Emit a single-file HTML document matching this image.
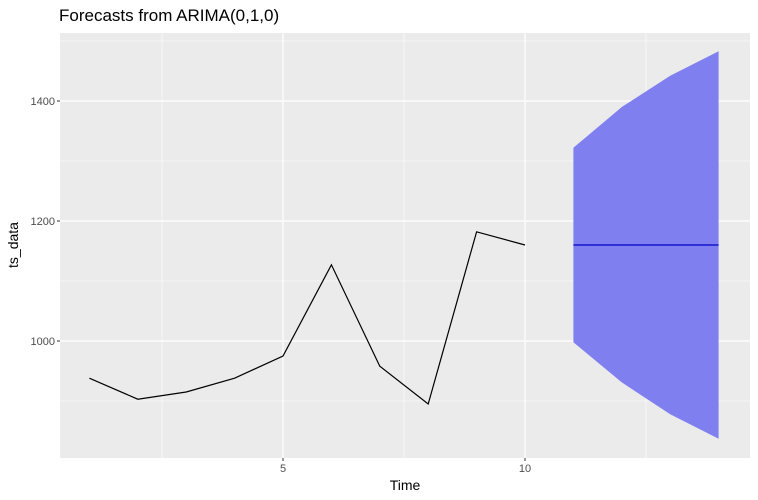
<!DOCTYPE html>
<html><head><meta charset="utf-8"><style>body{margin:0;background:#fff}svg{display:block;font-family:"Liberation Sans",sans-serif}</style></head><body>
<svg id="c" width="758" height="500"></svg>
<script>
const times=[1,2,3,4,5,6,7,8,9,10];
const values=[938,903,915,938,975,1127,958,895,1182,1160];
const fTimes=[11,12,13,14];
const fMean=[1160,1160,1160,1160];
const fUpper=[1322,1390,1442,1483];
const fLower=[998,931,878,837];
const xTicks=[5,10];
const yTicks=[1000,1200,1400];
const X=t=>283+(t-5)*48.4;
const Y=v=>341-(v-1000)*0.6;
const NS="http://www.w3.org/2000/svg";
const svg=document.getElementById('c');
function mk(tag,attrs,name,parent){const e=document.createElementNS(NS,tag);for(const k in attrs)e.setAttribute(k,attrs[k]);


(parent||svg).appendChild(e);return e;}
const L=60,R=750,T=33,B=458;
mk('rect',{x:L,y:T,width:R-L,height:B-T,fill:'#EBEBEB'},'plot-panel');
[2.5,7.5,12.5].forEach(t=>mk('line',{x1:X(t),x2:X(t),y1:T,y2:B,stroke:'#fff','stroke-width':0.6},'minor-grid-x'));
[900,1100,1300,1500].forEach(v=>mk('line',{x1:L,x2:R,y1:Y(v),y2:Y(v),stroke:'#fff','stroke-width':0.6},'minor-grid-y'));
xTicks.forEach(t=>{mk('line',{x1:X(t),x2:X(t),y1:T,y2:B,stroke:'#fff','stroke-width':1.2},'major-grid-x');
mk('line',{x1:X(t),x2:X(t),y1:B,y2:B+3,stroke:'#333','stroke-width':1},'x-tick');
const tx=mk('text',{x:X(t),y:B+14,'font-size':11,fill:'#4D4D4D','text-anchor':'middle'},'x-tick-label');tx.textContent=t;});
yTicks.forEach(v=>{mk('line',{x1:L,x2:R,y1:Y(v),y2:Y(v),stroke:'#fff','stroke-width':1.2},'major-grid-y');
mk('line',{x1:L-3,x2:L,y1:Y(v),y2:Y(v),stroke:'#333','stroke-width':1},'y-tick');
const tx=mk('text',{x:L-5,y:Y(v)+4,'font-size':11,fill:'#4D4D4D','text-anchor':'end'},'y-tick-label');tx.textContent=v;});
let up=fTimes.map((t,i)=>X(t)+','+Y(fUpper[i])),lo=fTimes.map((t,i)=>X(t)+','+Y(fLower[i])).reverse();
mk('polygon',{points:up.concat(lo).join(' '),fill:'#7F7FEF'},'prediction-interval-band');
mk('polyline',{points:fTimes.map((t,i)=>X(t)+','+Y(fMean[i])).join(' '),fill:'none',stroke:'#0000CC','stroke-width':1.2},'forecast-mean-line');
mk('polyline',{points:times.map((t,i)=>X(t)+','+Y(values[i])).join(' '),fill:'none',stroke:'#000','stroke-width':1.2},'observed-series-line');
let t=mk('text',{x:59,y:21,'font-size':17,fill:'#000'},'chart-title');t.textContent='Forecasts from ARIMA(0,1,0)';
t=mk('text',{x:405,y:490,'font-size':14,fill:'#000','text-anchor':'middle'},'x-axis-title');t.textContent='Time';
t=mk('text',{x:0,y:0,'font-size':14,fill:'#000','text-anchor':'middle',transform:'translate(18,245) rotate(-90)'},'y-axis-title');t.textContent='ts_data';
</script></body></html>
